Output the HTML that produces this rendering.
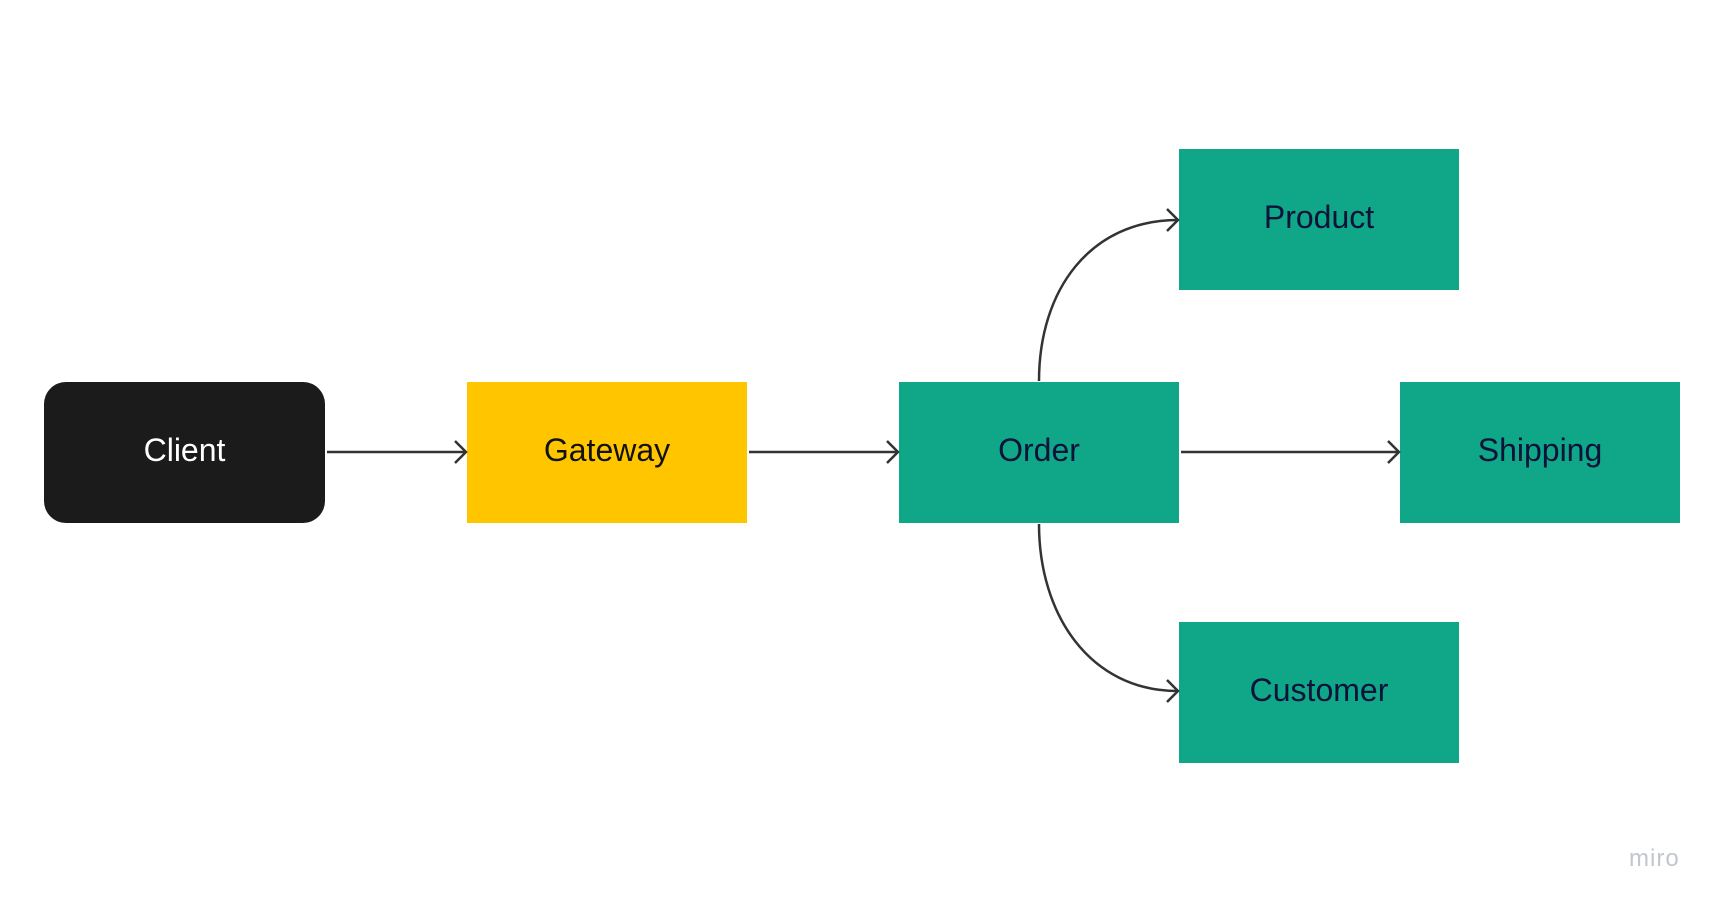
<!DOCTYPE html>
<html><head><style>
body{margin:0;width:1723px;height:906px;background:#fff;position:relative;overflow:hidden;font-family:"Liberation Sans",sans-serif}
.b{position:absolute;display:flex;align-items:center;justify-content:center;font-size:32px;color:#0d1238;box-sizing:border-box;padding-bottom:4px}
.g{background:#0fa788}
</style></head><body>
<div class="b" style="left:44px;top:382px;width:281px;height:141px;background:#1b1b1b;border-radius:22px;color:#fff">Client</div>
<div class="b" style="left:467px;top:382px;width:280px;height:141px;background:#ffc600;color:#111">Gateway</div>
<div class="b g" style="left:899px;top:382px;width:280px;height:141px">Order</div>
<div class="b g" style="left:1400px;top:382px;width:280px;height:141px">Shipping</div>
<div class="b g" style="left:1179px;top:149px;width:280px;height:141px">Product</div>
<div class="b g" style="left:1179px;top:622px;width:280px;height:141px">Customer</div>
<svg width="1723" height="906" style="position:absolute;left:0;top:0" fill="none" stroke="#333" stroke-width="2.5">
<path d="M327 452H466M455 441l11 11-11 11"/>
<path d="M749 452H898M887 441l11 11-11 11"/>
<path d="M1181 452H1399M1388 441l11 11-11 11"/>
<path d="M1039 381C1039 290 1090 220 1178 220M1167 209l11 11-11 11"/>
<path d="M1039 524C1039 615 1090 691 1178 691M1167 680l11 11-11 11"/>
</svg>
<div style="position:absolute;left:1629px;top:845px;font-size:24px;color:#c3c6cf;letter-spacing:1px">miro</div>
</body></html>
